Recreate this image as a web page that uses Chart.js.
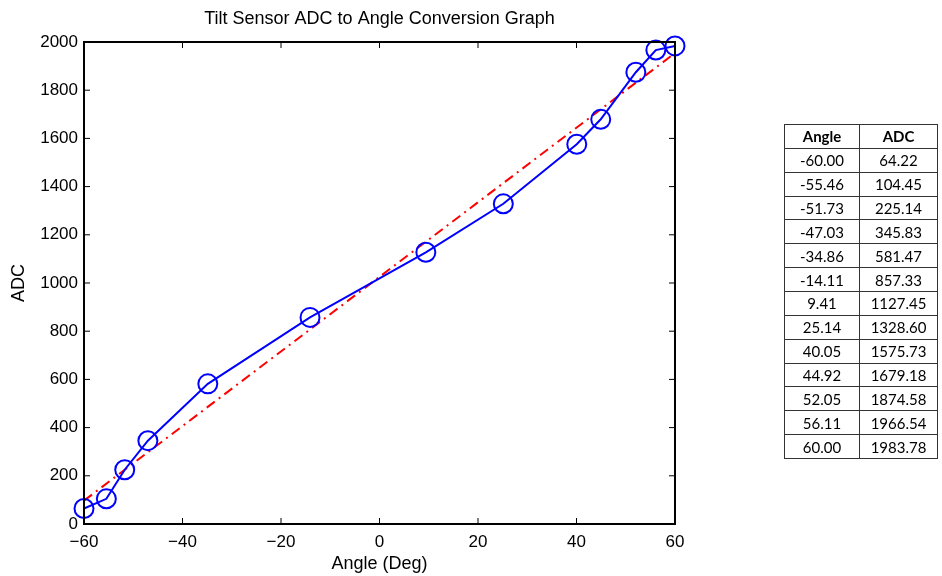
<!DOCTYPE html>
<html lang="en">
<head>
  <meta charset="UTF-8">
  <title>Tilt Sensor ADC to Angle Conversion Graph</title>
  <script src="https://cdn.jsdelivr.net/npm/chart.js"></script>
  <style>
    body { margin: 0; background: #fff; }
    #wrap { position: relative; width: 942px; height: 576px; }
    #table {
      position: absolute; left: 784px; top: 124px;
      border-collapse: collapse; font-family: Lato, "Open Sans", sans-serif; font-size: 15px;
    }
    #table td, #table th {
      border: 1px solid #333; height: 22.86px; padding: 0; text-align: center; line-height: 22px;
    }
    #table th { font-weight: bold; }
  </style>
</head>
<body>
  <div id="wrap">
    <canvas id="chart0" width="942" height="576"></canvas>
    <table id="table"></table>
  </div>

  <script>
    /* Measured points (from the table) */
    const angles = [-60.00, -55.46, -51.73, -47.03, -34.86, -14.11, 9.41, 25.14, 40.05, 44.92, 52.05, 56.11, 60.00]
    const adcValues = [64.22, 104.45, 225.14, 345.83, 581.47, 857.33, 1127.45, 1328.60, 1575.73, 1679.18, 1874.58, 1966.54, 1983.78]

    /* Red dash-dot fit line, end points */
    const fitAngles = [-60, 60]
    const fitAdc = [97, 1954]

    const xTicks = [-60, -40, -20, 0, 20, 40, 60]
    const yTicks = [0, 200, 400, 600, 800, 1000, 1200, 1400, 1600, 1800, 2000]

    /* Fill the side table */
    const table = document.getElementById("table")
    let html = '<tr><th style="width:74px">Angle</th><th style="width:77px">ADC</th></tr>'
    for (let i = 0; i < angles.length; i++) {
      html += "<tr><td>" + angles[i].toFixed(2) + "</td><td>" + adcValues[i].toFixed(2) + "</td></tr>"
    }
    table.innerHTML = html

    /* Box round the plot with inward ticks on all sides, like MATLAB */
    const boxTicks = {
      id: "boxTicks",
      afterDraw(chart) {
        const { ctx, chartArea: a, scales } = chart
        const len = 6
        ctx.save()
        ctx.strokeStyle = "#000"
        ctx.lineWidth = 2
        ctx.strokeRect(a.left, a.top, a.right - a.left, a.bottom - a.top)
        ctx.lineWidth = 1
        ctx.beginPath()
        xTicks.forEach(v => {
          const px = scales.x.getPixelForValue(v)
          ctx.moveTo(px, a.bottom); ctx.lineTo(px, a.bottom - len)
          ctx.moveTo(px, a.top); ctx.lineTo(px, a.top + len)
        })
        yTicks.forEach(v => {
          const py = scales.y.getPixelForValue(v)
          ctx.moveTo(a.left, py); ctx.lineTo(a.left + len, py)
          ctx.moveTo(a.right, py); ctx.lineTo(a.right - len, py)
        })
        ctx.stroke()
        ctx.restore()
      }
    }

    const minus = v => String(v).replace("-", "\u2212")
    const family = "'Liberation Sans', Arial, sans-serif"
    const tickFont = { family: family, size: 17 }
    const labelFont = { family: family, size: 18 }

    const ctx0 = document.getElementById("chart0").getContext("2d")
    const myChart0 = new Chart(ctx0, {
      type: "line",
      data: {
        datasets: [
          {
            data: fitAngles.map((x, i) => ({ x: x, y: fitAdc[i] })),
            borderColor: "#ff0000",
            borderWidth: 2,
            borderDash: [10, 5, 2, 5],
            pointRadius: 0,
            order: 2,
          },
          {
            data: angles.map((x, i) => ({ x: x, y: adcValues[i] })),
            borderColor: "#0000ff",
            borderWidth: 2,
            pointStyle: "circle",
            pointRadius: 9.5,
            pointBorderWidth: 2,
            pointBackgroundColor: "rgba(0,0,0,0)",
            pointBorderColor: "#0000ff",
            clip: false,
            order: 1,
          }
        ]
      },
      options: {
        responsive: false,
        animation: false,
        layout: { padding: { left: 0, right: 267, top: 0, bottom: 0 } },
        plugins: {
          legend: { display: false },
          tooltip: { enabled: false },
          title: {
            display: true,
            fullSize: false,
            text: "Tilt Sensor ADC to Angle Conversion Graph",
            color: "#000",
            font: { family: family, size: 18, weight: "normal" },
            padding: { top: 8, bottom: 12.4 }
          }
        },
        scales: {
          x: {
            type: "linear",
            min: -60, max: 60,
            afterBuildTicks: s => { s.ticks = xTicks.map(v => ({ value: v })) },
            afterFit: s => { s.height = 52 },
            ticks: { color: "#000", font: tickFont, padding: 8, callback: v => minus(v) },
            grid: { drawOnChartArea: false, drawTicks: false },
            border: { display: false },
            title: { display: true, text: "Angle (Deg)", color: "#000", font: labelFont, padding: { top: 0, bottom: 1 } }
          },
          y: {
            type: "linear",
            min: 0, max: 2000,
            afterBuildTicks: s => { s.ticks = yTicks.map(v => ({ value: v })) },
            afterFit: s => { s.width = 84 },
            ticks: { color: "#000", font: tickFont, padding: 6, callback: v => minus(v) },
            grid: { drawOnChartArea: false, drawTicks: false },
            border: { display: false },
            title: { display: true, text: "ADC", color: "#000", font: labelFont, padding: { top: 8, bottom: 0 } }
          }
        }
      },
      plugins: [boxTicks]
    })
  </script>
</body>
</html>
